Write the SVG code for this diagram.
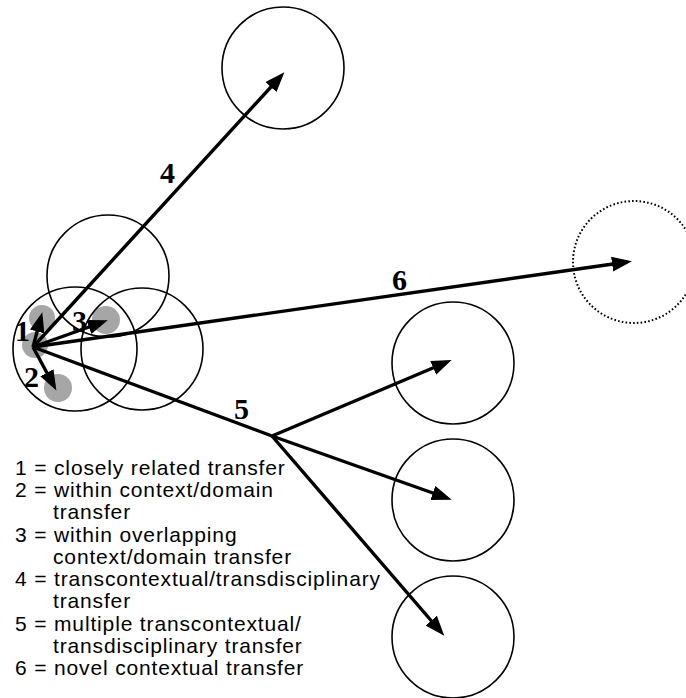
<svg xmlns="http://www.w3.org/2000/svg" width="686" height="698" viewBox="0 0 686 698">
  <style>
    .ctx { fill: none; stroke: #000; stroke-width: 1.6; }
    .novel { fill: none; stroke: #000; stroke-width: 2; stroke-dasharray: 1.6 2.2; }
    .spot { fill: #a6a6a6; stroke: none; }
    .arrow { fill: none; stroke: #000; stroke-width: 3.4; marker-end: url(#head); }
    .trunk { fill: none; stroke: #000; stroke-width: 3.4; }
    .num { font-family: "Liberation Serif", "Times New Roman", serif; font-size: 30px; font-weight: bold; fill: #000; }
    .legend { font-family: "Liberation Sans", Arial, Helvetica, sans-serif; font-size: 21px; letter-spacing: 0.85px; fill: #000; }
  </style>
  <defs>
    <marker id="head" markerUnits="userSpaceOnUse" markerWidth="22" markerHeight="16" refX="15" refY="7.5" orient="auto">
      <path d="M0,0 L20,7.5 L0,15 Z" fill="#000"/>
    </marker>
  </defs>

  <rect width="686" height="698" fill="#fff"/>

  <!-- contexts / domains -->
  <g id="spot-origin"><circle class="spot" cx="35" cy="345" r="13"/></g>
  <g id="spot-1"><circle class="spot" cx="42" cy="318" r="13"/></g>
  <g id="spot-2"><circle class="spot" cx="58" cy="388" r="14"/></g>
  <g id="spot-3"><circle class="spot" cx="106" cy="320" r="14"/></g>

  <g id="domain-home"><circle class="ctx" cx="75" cy="349" r="62"/></g>
  <g id="domain-overlap"><circle class="ctx" cx="142" cy="349" r="61"/></g>
  <g id="domain-upper"><circle class="ctx" cx="108" cy="276" r="61"/></g>
  <g id="domain-far"><circle class="ctx" cx="283" cy="68" r="61"/></g>
  <g id="domain-multi-a"><circle class="ctx" cx="453" cy="363" r="61"/></g>
  <g id="domain-multi-b"><circle class="ctx" cx="453" cy="500" r="61"/></g>
  <g id="domain-multi-c"><circle class="ctx" cx="453" cy="637" r="61"/></g>
  <g id="domain-novel"><circle class="novel" cx="634" cy="262" r="61"/></g>

  <!-- transfers -->
  <g id="connectors">
    <line class="arrow" x1="33" y1="347" x2="41" y2="317"/>
    <line class="arrow" x1="33" y1="347" x2="54" y2="386"/>
    <line class="arrow" x1="33" y1="347" x2="103" y2="322"/>
    <line class="arrow" x1="33" y1="347" x2="281" y2="76"/>
    <line class="arrow" x1="33" y1="347" x2="627" y2="262"/>
    <line class="trunk" x1="33" y1="347" x2="272" y2="436"/>
    <line class="arrow" x1="272" y1="436" x2="447" y2="362"/>
    <line class="arrow" x1="272" y1="436" x2="447" y2="498"/>
    <line class="arrow" x1="272" y1="436" x2="441" y2="632"/>
  </g>

  <!-- transfer numbers -->
  <g id="numbers">
    <text class="num" x="15" y="341">1</text>
    <text class="num" x="24" y="387">2</text>
    <text class="num" x="72" y="331">3</text>
    <text class="num" x="160" y="183">4</text>
    <text class="num" x="234" y="419">5</text>
    <text class="num" x="392" y="290">6</text>
  </g>

  <!-- key -->
  <g id="legend">
    <text class="legend" x="15" y="475">1 = closely related transfer</text>
    <text class="legend" x="15" y="497">2 = within context/domain</text>
    <text class="legend" x="53" y="519">transfer</text>
    <text class="legend" x="15" y="542">3 = within overlapping</text>
    <text class="legend" x="53" y="564">context/domain transfer</text>
    <text class="legend" x="15" y="586">4 = transcontextual/transdisciplinary</text>
    <text class="legend" x="53" y="608">transfer</text>
    <text class="legend" x="15" y="631">5 = multiple transcontextual/</text>
    <text class="legend" x="53" y="653">transdisciplinary transfer</text>
    <text class="legend" x="15" y="675">6 = novel contextual transfer</text>
  </g>
</svg>
